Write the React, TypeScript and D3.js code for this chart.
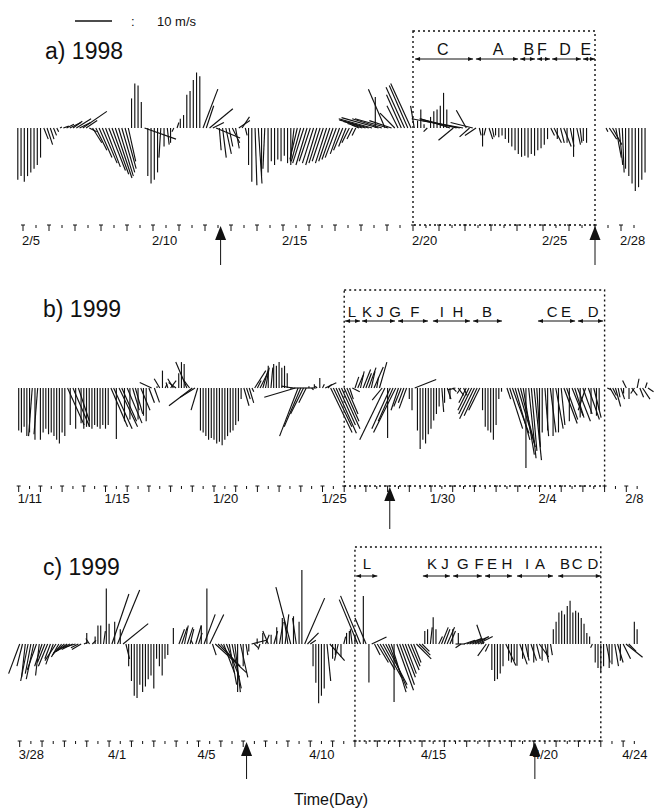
import React from "react";
import * as d3 from "d3";

type Vec = [number, number]; // [u (east), v (north)] in m/s

// ---------- DATA: 3-hourly wind vectors ----------
const windA: Vec[] = [
  [0,-14],[0,-13],[0,-14.5],[0,-13],[0,-12],[0,-11],[0,-10],[0,-8],
  [1.2,-3],[1.5,-4.5],[1,-3],[0.8,-2],[0.5,-1],[0.5,0.3],[1.5,0.5],[2,1],
  [3,1.5],[2.5,1.8],[4,2.5],[3,1.5],[6.5,4.5],[3,2],[2,-1],[2.5,-4],
  [3,-6],[3.5,-8],[4,-9.5],[4,-10.5],[4.5,-11.5],[4.5,-12.5],[4.5,-13.5],[4,-13],
  [3.5,-12],[3,-11],[2,-9],[0,8],[0,12],[0,11.5],[0,7],[8.5,-3],
  [0,-13],[0,-15],[0,-14],[0,-12],[-0.5,-8],[0,-5],[0.5,-4.5],[0,-4],
  [-0.5,-1],[0.5,1.5],[0,2.5],[0,3.5],[0,9],[0,10],[0,13],[0,15],
  [0,14],[4,10.5],[2,6],[6.3,5.2],[3,1.5],[6.5,-2.7],[0.5,-6],[1,-8],
  [1.5,-7],[1,-5],[2,-4],[1,-5.5],[3,2],[2,3],[0.5,-2],[0,-10],
  [0,-14.5],[0.5,-15.5],[1,-15],[0,-13],[-0.5,-11],[0,-12],[0,-9],[0,-10],
  [0,-8.5],[0,-9],[0,-7.5],[0,-9.5],[0,-10],[-1,-9],[-2,-8.5],[-2.5,-9],
  [-3,-9.5],[-3,-10],[-3,-9],[-3,-9.5],[-3,-10],[-3,-9.5],[-3,-9],[-3,-9.5],
  [-3,-9],[-3,-8.5],[-3,-8],[-2.5,-7],[-2.5,-6],[-2,-5],[-2,-4],[-1.5,-3],
  [-1,-2],[-2,0.8],[-4,1.2],[-6,1.8],[-8,2.2],[-9,2.5],[0,8.4],[-10,2.8],
  [-8,2.5],[-4.5,10.5],[-9,2.5],[-6,2],[-4,4],[-3,6],[-4,9],[-5,11],
  [-5,11.5],[-5.5,12],[-1,6],[0,2],[0,5],[0,1],[-1,-1],[0,3],
  [0,4.5],[0,5],[0,6],[0,9.5],[0,5],[-8,2.5],[-4,-3.3],[-10,2.5],
  [-13,2.5],[-11,2],[-2.7,4.8],[-2.7,-2.4],[-6,1.5],[-3,-2],[0.5,-2],[0,-5],
  [-0.5,-2],[1,-3],[0.5,-2.5],[0,-2],[0,-2.5],[0,-2],[0,-3],[0,-4],
  [0,-5],[0,-6],[0,-7],[0,-7.8],[0,-7.5],[0,-8],[0,-7],[0,-7.5],
  [0,-6],[0,-5.5],[0,-4.5],[0,-3],[1,-2],[2,-4],[0,-3],[1,-4],
  [2,-5],[0,-4],[1,-5],[0,-7.8],[1,-4.5],[0.5,-4],[0,-3.5],[0,-4],
  [0,0],[0,0],[0,0],[0,0],[0,0],[0.5,-1],[2,-3],[2.5,-4.5],
  [1.5,-8],[1,-10],[0.5,-12],[0,-11],[0,-13],[0,-15],[0,-17],[0,-16],
  [0,-14],[0,-12],
];

const windB: Vec[] = [
  [0,-11.5],[0,-12],[0,-10.5],[0,-13],[0,-12],[-1,-13],[0,-14],[-1,-12.5],
  [0,-14],[0,-12],[0,-11],[0,-12.5],[0,-12],[0,-13],[0,-14],[0,-15],
  [0,-12],[0,-13],[4.5,-10],[0,-10],[4.5,-10.5],[0,-11],[3,-9],[0,-9.5],
  [0,-11],[0,-10.5],[0,-10.5],[0,-11],[0,-10],[0,-10.5],[0,-11],[0,-10],
  [0,-11],[0,-10],[4.5,-10.5],[5,-11],[0,-13.8],[5,-10.5],[4,-9],[0,-9],
  [4,-9.5],[0,-8.5],[1.8,-6],[2,-7],[0,-8.5],[2.5,-6],[0,-7.5],[0,-9],
  [1.5,-4],[-3.2,1.5],[1.4,-3.9],[0,0.5],[-1.5,2.5],[0,4.7],[0.5,1],[-0.5,1.5],
  [1.5,2],[-1.5,2.5],[-2,1.5],[0,4],[0,7],[0,6.5],[-3,7],[-1.5,2],
  [-6.3,-4.8],[-4,-2.5],[-1.8,-6],[0,-11.5],[0,-12],[0,-13],[0,-14],[0,-13.5],
  [0,-14],[0,-15],[0,-14.5],[0,-15.5],[0,-14],[0,-13],[0,-12],[0,-11.5],
  [0,-10],[0,-9],[0,-3],[1.4,-4.8],[1,-3],[1.2,-4],[0.5,-1],[3,4.7],
  [1,2],[2,4],[1.5,5],[1,5.5],[0,6],[0.5,5.5],[0,6.5],[0,6],
  [0,7],[0,5.5],[0,6],[0,4],[7,0],[-3,0.5],[-8.4,-2.5],[-5,-13],
  [-4.5,-10.5],[-3.5,-7],[-2,-4],[0,0.5],[0.5,-0.5],[0,1],[-0.5,0.5],[0,2.7],
  [0.5,1],[3,1.4],[1,1],[5.8,-12],[5,-10.5],[5.5,-12.2],[4.5,-10],[5,-11],
  [4,-9],[3,-7],[1,-3],[2,-1],[1,3],[1.5,3.5],[1,4.5],[2,5],
  [1.5,4],[2,5.5],[1,4.5],[2.5,5.7],[0.5,3],[2,7],[-2.7,-3.3],[-6.8,-14],
  [0,-13.5],[-5,-11],[-4,-9],[-6,-12],[-2,-6],[-2,-5],[-1.5,-4],[-2,-5.5],
  [0,-3],[0,-6],[5.8,2.3],[0,-11.5],[0,-16.5],[0,-14],[0,-15],[0,-12.5],
  [0,-11],[0,-8.8],[0,-7],[0,-5],[0.5,-6.5],[0,-4],[1,-3],[0,-3],
  [1,-1],[-2,-0.5],[1.5,-2],[-1,-1.5],[1,-2],[-2,-4],[-3,-6],[-3.5,-7],
  [-4,-8.3],[-3.5,-7.5],[-3,-6],[0,-6],[0,-10.5],[0,-11.5],[0,-12],[0,-14],
  [0,-10],[0,-3],[0,-1],[0,0],[1,-3],[3.5,-11],[4.5,-12.3],[4,-14],
  [4.5,-15],[4,-16],[3,-18],[0,-21.6],[2,-19],[1.5,-17],[2,-19.5],[1,-16],
  [0,-14],[0,-12],[1,-13],[0,-11.5],[1.5,-12],[0,-13],[2,-11],[0,-12],
  [1,-10],[3.6,-9.6],[3,-8.5],[0,-9],[3,-7.5],[2.5,-8],[3.5,-9],[0,-8],
  [2.5,-7],[-2,-6],[3,-8.5],[0,-7],[2,-8],[0,-7.5],[0,-6],[0,0],
  [0,0],[1,-0.5],[1.8,-3.2],[1,-2],[1.4,-5],[0.5,-2.5],[1,-3],[0,-1.5],
  [-1,2],[0,-3],[1.5,-2],[-1,-1.5],[0.5,2.5],[1,-2.5],[2,-3],[0.5,1.5],
  [1.5,-1],
];

const windC: Vec[] = [
  [-3,-8],[-1.5,-6],[-1,-9],[-2,-10],[-1.5,-8],[-2,-9.5],[-2.5,-7],[-1,-8.5],
  [-2,-6],[-2,-5],[-2.5,-6],[-1.5,-4],[-2,-5.5],[-3,-4.5],[-2,-3.5],[-2.5,-3],
  [-3,-2.5],[-3,-2],[-4,-2],[-3,-1.5],[-3.5,-1],[-2,-1],[-2.5,-1.5],[1,0.5],
  [0,3],[-1,1.5],[1,1],[0,2],[0,5],[0,5],[0.5,3.5],[0,15],
  [0,5.5],[4.6,13.5],[0,6],[6,14.6],[0,4],[6.8,5.5],[1,-4],[0,-6],
  [0,-10],[0,-14],[0,-14.6],[0,-11],[0,-13],[0,-11.5],[0,-9.5],[0,-8.5],
  [0,-12],[0,-4],[0,-6],[0,-8.5],[0,-4],[0,-3],[0,0],[0,4.3],
  [0,0],[1.5,4],[1.5,4.5],[1,5],[1.5,4.5],[1,4],[-0.5,1],[1.5,5],
  [1,3],[0,5],[3,8],[0,15],[3.8,8],[1,-3],[8.5,-7.8],[6,-6],
  [4,-5],[3,-8],[3.5,-9],[2,-11],[2.5,-12],[1.5,-13],[0,-13],[2,-9],
  [0,-6],[0.5,-3],[0,-2],[4,1],[1,-1],[0,1.5],[-0.5,-1.5],[0,3],
  [1,2.5],[-1.5,3.5],[0,2.5],[1,3.5],[0,4.5],[1,6],[0,7],[1,8],
  [-1,6.5],[-4,15.4],[0,7.5],[-1,7],[0,6],[0,20],[5.4,12.4],[3,3],
  [1.5,1],[0,-6],[0,-10.5],[0,-16],[0,-14],[0,-12],[1,-10],[4,-4.5],
  [0,-4],[0,-3],[-1,-4.5],[0,-3.5],[0.5,2],[0,3],[0,3.5],[-0.5,4],
  [0,2.5],[-5,12],[-5.4,13],[0,13],[-3,7],[0,-10.4],[4,1.9],[1.5,-3],
  [3,-5],[4,-7],[5,-9],[5.8,-11],[5,-12],[4,-13],[0,-15.7],[4.5,-12.5],
  [4,-11],[3.5,-9],[3,-8],[3,-7],[2.5,-6],[2,-5],[4,-4],[3,-3],
  [2,-2],[0,3.5],[0,4],[0.5,4.5],[0,7.2],[0,4],[1,2],[1.8,4.5],
  [1.5,4],[2,4.5],[1.5,3.5],[0,4],[2.5,0],[0,3],[-1.5,-1],[3,1],
  [4,1.5],[3.5,1.5],[4.5,2],[3,1.5],[4,2],[1,0.5],[-1.8,5.2],[-2.3,-3.2],
  [-1,-2],[0,-7],[0,-10],[0,-9.5],[0,-8],[0,-6],[2.7,-5.8],[0,-4.5],
  [0,-5],[0,-4.5],[0,-5.9],[2,-5.5],[0,-4],[1,-4.5],[0,-3.5],[1.5,-4.5],
  [0,-5],[1,-4],[2.5,-3.5],[0,-4.5],[1,-5],[0,-4],[0.5,-3],[0,4],
  [0,6],[0,8.5],[0,9],[0,8],[0,10.3],[0,11.7],[0,8.5],[0,9],
  [0,8.5],[0,7],[0,5.5],[0,3],[0,2],[-0.5,-1],[0,-5],[0,-6.5],
  [0,-7.6],[0,-6],[1,-5],[0,-6.5],[0,-5.5],[1,-6],[1.5,-5],[0,-4.5],
  [2,-4],[4.5,-3.6],[2,-2],[0,0],[0,6],[0,4],
];

// first sample day of each record (day of month; panel b counts Feb as 32+, panel c counts March 28 as -3)
const startDayA = 4.8;
const startDayB = 11;
const startDayC = -3;
const sampleStep = 1 / 8;

const tickDaysA = [5, 10, 15, 20, 25, 28];
const tickLabelsA = ["2/5", "2/10", "2/15", "2/20", "2/25", "2/28"];
const tickDaysB = [11, 15, 20, 25, 30, 35, 39];
const tickLabelsB = ["1/11", "1/15", "1/20", "1/25", "1/30", "2/4", "2/8"];
const tickDaysC = [-3, 1, 5, 10, 15, 20, 24];
const tickLabelsC = ["3/28", "4/1", "4/5", "4/10", "4/15", "4/20", "4/24"];

const boxA: [number, number] = [20, 27];
const boxB: [number, number] = [26, 38];
const boxC: [number, number] = [12, 23];

const eventsA = [12.6, 27.0];
const eventsB = [28.1];
const eventsC = [7.15, 20.05];

const spansA: [number, number][] = [[20.08, 22.31], [22.42, 24.04], [24.12, 24.69], [24.77, 25.27], [25.35, 26.46], [26.54, 27.0]];
const lettersA = ["C", "A", "B", "F", "D", "E"];
const letterDaysA = [21.15, 23.27, 24.46, 24.96, 25.85, 26.65];

const spansB: [number, number][] = [[26.04, 26.73], [26.82, 28.34], [28.48, 29.86], [30.09, 31.8], [31.94, 33.27], [34.93, 36.64], [36.77, 37.93]];
const lettersB = ["L", "K", "J", "G", "F", "I", "H", "B", "C", "E", "D"];
const letterDaysB = [26.36, 27.05, 27.65, 28.34, 29.26, 30.5, 31.24, 32.58, 35.58, 36.22, 37.47];

const spansC: [number, number][] = [[12.05, 13.0], [15.04, 16.25], [16.39, 17.68], [17.82, 19.03], [19.25, 20.86], [21.09, 23.0]];
const lettersC = ["L", "K", "J", "G", "F", "E", "H", "I", "A", "B", "C", "D"];
const letterDaysC = [12.54, 15.45, 16.03, 16.83, 17.55, 18.13, 18.8, 19.7, 20.28, 21.4, 21.94, 22.65];

const legendSpeed = 10;

// ---------- LAYOUT ----------
const W = 654;
const H = 809;
const FONT = "'Liberation Sans', Arial, Helvetica, sans-serif";
const INK = "#111";

const speedScale = d3.scaleLinear().domain([0, 10]).range([0, 37]);

interface PanelCfg {
  title: string;
  titleX: number;
  titleY: number;
  wind: Vec[];
  start: number;
  domain: [number, number];
  range: [number, number];
  baseline: number;
  tickY: number;
  labelY: number;
  tickLo: number;
  tickHi: number;
  tickDays: number[];
  tickLabels: string[];
  box: [number, number];
  boxTop: number;
  spans: [number, number][];
  spanY: number;
  letters: string[];
  letterDays: number[];
  letterY: number;
  letterSize: number;
  events: number[];
  eventLen: number;
}

const panels: PanelCfg[] = [
  {
    title: "a) 1998", titleX: 45, titleY: 59, wind: windA, start: startDayA,
    domain: [5, 25], range: [23, 543], baseline: 128, tickY: 225, labelY: 245,
    tickLo: 5, tickHi: 28.5, tickDays: tickDaysA, tickLabels: tickLabelsA,
    box: boxA, boxTop: 31, spans: spansA, spanY: 59, letters: lettersA,
    letterDays: letterDaysA, letterY: 55, letterSize: 16, events: eventsA, eventLen: 40,
  },
  {
    title: "b) 1999", titleX: 43, titleY: 317, wind: windB, start: startDayB,
    domain: [11, 30], range: [18.7, 431], baseline: 388, tickY: 486, labelY: 503,
    tickLo: 11, tickHi: 39.5, tickDays: tickDaysB, tickLabels: tickLabelsB,
    box: boxB, boxTop: 290, spans: spansB, spanY: 321, letters: lettersB,
    letterDays: letterDaysB, letterY: 317, letterSize: 15, events: eventsB, eventLen: 43,
  },
  {
    title: "c) 1999", titleX: 43, titleY: 575, wind: windC, start: startDayC,
    domain: [-3, 15], range: [19.7, 422], baseline: 644, tickY: 741, labelY: 759,
    tickLo: -3, tickHi: 24.5, tickDays: tickDaysC, tickLabels: tickLabelsC,
    box: boxC, boxTop: 547, spans: spansC, spanY: 576, letters: lettersC,
    letterDays: letterDaysC, letterY: 569, letterSize: 15, events: eventsC, eventLen: 38,
  },
];

function Panel({ p }: { p: PanelCfg }) {
  const x = d3.scaleLinear().domain(p.domain).range(p.range);
  const ticks = d3.range(p.tickLo, p.tickHi + 0.001, 0.5);
  const bx0 = x(p.box[0]);
  const bx1 = x(p.box[1]);
  return (
    <g>
      <text x={p.titleX} y={p.titleY} fontSize={23} fontFamily={FONT} fill={INK}>
        {p.title}
      </text>

      {/* wind sticks */}
      <g stroke={INK} strokeWidth={1.15} strokeLinecap="butt">
        {p.wind.map(([u, v], i) => {
          const x0 = x(p.start + i * sampleStep);
          if (u === 0 && v === 0) return null;
          return (
            <line key={i} x1={x0} y1={p.baseline} x2={x0 + speedScale(u)} y2={p.baseline - speedScale(v)} />
          );
        })}
      </g>

      {/* dotted box */}
      <rect x={bx0} y={p.boxTop} width={bx1 - bx0} height={p.tickY - p.boxTop}
        fill="none" stroke={INK} strokeWidth={1.4} strokeDasharray="2,3" />

      {/* interval arrows */}
      <g stroke={INK} fill={INK}>
        {p.spans.map(([a, b], i) => {
          const x1 = x(a);
          const x2 = x(b);
          const y = p.spanY;
          return (
            <g key={i}>
              <line x1={x1} y1={y} x2={x2} y2={y} strokeWidth={1} />
              <path d={`M${x1},${y}L${x1 + 5},${y - 2}L${x1 + 5},${y + 2}Z`} stroke="none" />
              <path d={`M${x2},${y}L${x2 - 5},${y - 2}L${x2 - 5},${y + 2}Z`} stroke="none" />
            </g>
          );
        })}
      </g>
      {p.letters.map((t, i) => (
        <text key={i} x={x(p.letterDays[i])} y={p.letterY} fontSize={p.letterSize}
          fontFamily={FONT} fill={INK} textAnchor="middle">{t}</text>
      ))}

      {/* time ticks */}
      <g stroke={INK} strokeWidth={1}>
        {ticks.map((d, i) => {
          const tx = x(d);
          const isDay = Math.abs(d - Math.round(d)) < 1e-6;
          return isDay ? (
            <g key={i}>
              <line x1={tx} y1={p.tickY} x2={tx} y2={p.tickY + 6} />
              <line x1={tx - 2} y1={p.tickY} x2={tx + 2} y2={p.tickY} />
            </g>
          ) : (
            <line key={i} x1={tx} y1={p.tickY} x2={tx} y2={p.tickY + 3} />
          );
        })}
      </g>
      {p.tickLabels.map((t, i) => (
        <text key={i} x={x(p.tickDays[i]) - 1} y={p.labelY} fontSize={13} fontFamily={FONT} fill={INK}>
          {t}
        </text>
      ))}

      {/* event arrows */}
      {p.events.map((d, i) => {
        const ex = x(d);
        const tip = p.tickY + 1;
        return (
          <g key={i}>
            <path d={`M${ex},${tip}L${ex - 5.5},${tip + 14}L${ex + 5.5},${tip + 14}Z`} fill={INK} />
            <line x1={ex} y1={tip + 14} x2={ex} y2={p.tickY + p.eventLen} stroke={INK} strokeWidth={1} />
          </g>
        );
      })}
    </g>
  );
}

export default function App() {
  const lx0 = 75;
  return (
    <svg width={W} height={H} viewBox={`0 0 ${W} ${H}`}
      style={{ position: "absolute", left: 0, top: 0, background: "#fff" }}>
      <rect x={0} y={0} width={W} height={H} fill="#fff" />
      {/* legend */}
      <line x1={lx0} y1={21} x2={lx0 + speedScale(legendSpeed)} y2={21} stroke={INK} strokeWidth={1.3} />
      <text x={131} y={26} fontSize={13} fontFamily={FONT} fill={INK}>:</text>
      <text x={157} y={26} fontSize={13} fontFamily={FONT} fill={INK}>{`${legendSpeed} m/s`}</text>

      {panels.map((p, i) => (
        <Panel key={i} p={p} />
      ))}

      <text x={331} y={805} fontSize={16} fontFamily={FONT} fill={INK} textAnchor="middle">
        Time(Day)
      </text>
    </svg>
  );
}
